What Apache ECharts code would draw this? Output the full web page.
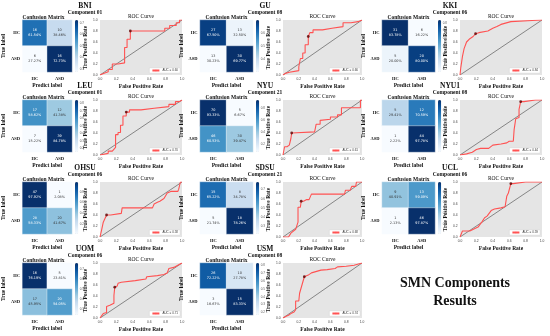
<!DOCTYPE html>
<html><head><meta charset="utf-8">
<script src="https://cdn.jsdelivr.net/npm/echarts@6/dist/echarts.min.js"></script>
<style>html,body{margin:0;padding:0;background:#fff}#c{width:550px;height:336px}</style>
</head><body><div id="c"></div>
<script>
// ---------------- DATA ----------------
const sites = ['BNI','GU','KKI','LEU','NYU','NYU1','OHSU','SDSU','UCL','UOM','USM'];
const components = ['Component 01','Component 08','Component 06','Component 01','Component 21','Component 08','Component 06','Component 21','Component 06','Component 06','Component 08'];
const classLabels = ['HC','ASD'];
// confusion matrix counts: [HC->HC, HC->ASD, ASD->HC, ASD->ASD]
const cmCounts = [
  [16,10,6,16],[27,13,13,30],[31,6,5,20],[17,12,7,39],[70,5,46,30],[5,12,1,44],
  [47,1,28,20],[15,8,5,18],[9,13,1,46],[16,5,17,20],[26,10,3,15]
];
// row-normalised rates (%)
const cmRates = [
  [61.54,38.46,27.27,72.73],[67.50,32.50,30.23,69.77],[83.78,16.22,20.00,80.00],[58.62,41.38,15.22,84.78],
  [93.33,6.67,60.53,39.47],[29.41,70.59,2.22,97.78],[97.92,2.08,58.33,41.67],[65.22,34.78,21.74,78.26],
  [40.91,59.09,2.13,97.87],[76.19,23.81,45.95,54.05],[72.22,27.78,16.67,83.33]
];
const aucLabels = ['AUC = 0.60','AUC = 0.66','AUC = 0.84','AUC = 0.70','AUC = 0.61','AUC = 0.44','AUC = 0.58','AUC = 0.68','AUC = 0.59','AUC = 0.71','AUC = 0.74'];
const rocBNI = [[0,0],[0,0.03],[0.05,0.03],[0.05,0.06],[0.1,0.06],[0.1,0.1],[0.15,0.1],[0.15,0.2],[0.22,0.2],[0.22,0.22],[0.3,0.22],[0.3,0.5],[0.33,0.5],[0.33,0.65],[0.37,0.65],[0.37,0.8],[0.79,0.8],[0.79,0.85],[0.85,0.85],[0.85,0.9],[0.93,0.9],[0.93,0.95],[0.97,0.95],[0.97,1],[1,1]];
const rocGU = [[0,0],[0.03,0.03],[0.08,0.05],[0.1,0.08],[0.2,0.08],[0.2,0.15],[0.22,0.15],[0.22,0.3],[0.25,0.3],[0.25,0.4],[0.28,0.4],[0.28,0.55],[0.32,0.55],[0.32,0.7],[0.34,0.7],[0.34,0.77],[0.38,0.77],[0.38,0.82],[0.5,0.82],[0.5,0.85],[0.62,0.85],[0.62,0.88],[0.76,0.88],[0.76,0.95],[0.86,0.95],[0.86,0.97],[0.95,0.97],[1,1]];
const rocKKI = [[0,0],[0.01,0.14],[0.03,0.34],[0.05,0.48],[0.08,0.6],[0.12,0.66],[0.16,0.7],[0.19,0.75],[0.23,0.77],[0.34,0.8],[0.4,0.85],[0.45,0.88],[0.5,0.92],[0.62,0.97],[0.88,0.99],[1,1]];
const rocLEU = [[0,0],[0,0.03],[0.1,0.03],[0.1,0.07],[0.15,0.07],[0.19,0.14],[0.19,0.37],[0.22,0.37],[0.22,0.41],[0.25,0.41],[0.25,0.54],[0.28,0.54],[0.28,0.71],[0.32,0.71],[0.32,0.78],[0.36,0.78],[0.36,0.82],[0.5,0.82],[0.5,0.85],[0.66,0.85],[0.66,0.88],[0.84,0.88],[0.84,0.92],[0.92,0.92],[0.92,0.97],[0.97,0.97],[0.97,1],[1,1]];
const rocNYU = [[0,0],[0.01,0.02],[0.02,0.02],[0.02,0.15],[0.05,0.15],[0.05,0.18],[0.08,0.18],[0.1,0.3],[0.11,0.4],[0.4,0.42],[0.4,0.44],[0.42,0.44],[0.42,0.56],[0.47,0.56],[0.47,0.63],[0.6,0.65],[0.6,0.69],[0.69,0.69],[0.69,0.73],[0.74,0.73],[0.74,0.86],[0.98,0.86],[0.98,1],[1,1]];
const rocNYU1 = [[0,0],[0.02,0.02],[0.08,0.02],[0.1,0.05],[0.15,0.05],[0.2,0.1],[0.25,0.12],[0.35,0.12],[0.4,0.18],[0.5,0.2],[0.57,0.22],[0.6,0.25],[0.65,0.25],[0.66,0.46],[0.68,0.46],[0.68,0.66],[0.72,0.68],[0.72,0.83],[0.74,0.83],[0.74,0.97],[0.78,0.97],[0.92,1],[1,1]];
const rocOHSU = [[0,0],[0,0.03],[0.02,0.03],[0.02,0.13],[0.04,0.13],[0.04,0.27],[0.06,0.27],[0.08,0.4],[0.13,0.4],[0.13,0.43],[0.26,0.43],[0.27,0.53],[0.64,0.53],[0.66,0.6],[0.7,0.63],[0.73,0.65],[0.78,0.7],[0.8,0.7],[0.82,0.8],[0.87,0.83],[0.95,0.83],[0.96,0.87],[0.98,0.87],[0.98,1],[1,1]];
const rocSDSU = [[0,0],[0.07,0],[0.1,0.07],[0.12,0.1],[0.16,0.14],[0.18,0.14],[0.19,0.27],[0.19,0.54],[0.22,0.54],[0.23,0.65],[0.26,0.65],[0.3,0.68],[0.33,0.68],[0.36,0.78],[0.78,0.78],[0.79,0.85],[0.85,0.85],[0.87,0.92],[0.92,0.92],[0.93,1],[1,1]];
const rocUCL = [[0,0],[0.02,0.02],[0.03,0.11],[0.12,0.11],[0.14,0.14],[0.22,0.18],[0.24,0.22],[0.27,0.28],[0.3,0.35],[0.33,0.38],[0.38,0.48],[0.42,0.51],[0.5,0.53],[0.55,0.55],[0.57,0.74],[0.59,0.8],[0.61,0.8],[0.62,0.97],[0.65,0.97],[0.8,1],[1,1]];
const rocUOM = [[0,0],[0.02,0.02],[0.04,0.08],[0.08,0.1],[0.08,0.21],[0.12,0.23],[0.13,0.25],[0.17,0.27],[0.17,0.41],[0.18,0.56],[0.21,0.58],[0.22,0.63],[0.26,0.65],[0.27,0.68],[0.43,0.68],[0.45,0.71],[0.56,0.71],[0.57,0.75],[0.7,0.77],[0.78,0.79],[0.82,0.82],[0.84,0.9],[0.9,0.92],[0.92,0.95],[0.96,0.97],[1,1]];
const rocUSM = [[0,0],[0.04,0.03],[0.07,0.05],[0.1,0.08],[0.14,0.11],[0.16,0.15],[0.16,0.31],[0.2,0.31],[0.21,0.45],[0.23,0.45],[0.24,0.6],[0.25,0.65],[0.27,0.75],[0.32,0.78],[0.36,0.82],[0.38,0.85],[0.48,0.87],[0.56,0.88],[0.66,0.9],[0.69,0.93],[0.8,0.94],[0.82,0.95],[0.9,0.96],[0.92,0.98],[1,1]];
const rocCurves = [rocBNI,rocGU,rocKKI,rocLEU,rocNYU,rocNYU1,rocOHSU,rocSDSU,rocUCL,rocUOM,rocUSM];
const rocMarkers = [[0.37,0.8],[0.32,0.7],[0.19,0.75],[0.32,0.78],[0.11,0.4],[0.74,0.97],[0.08,0.4],[0.23,0.65],[0.62,0.97],[0.18,0.56],[0.27,0.75]];
const chanceLine = [[0,0],[1,1]];

// ---------------- LAYOUT ----------------
const SERIF = '"Liberation Serif","Times New Roman",serif';
const colHm = [[15,57],[200,53],[382,53]];
const colCb = [75,256,438];
const colRoc = [[100,82],[283,79],[460,82]];
const colTitle = [85,265,450];
const colTrue = [5,186,371];
const rowTop = [20,100,182,263];
const HM_H = 52, ROC_H = 55;
const blues = ['#f7fbff','#deebf7','#c6dbef','#9ecae1','#6baed6','#4292c6','#2171b5','#08519c','#08306b'];

const grid=[], xAxis=[], yAxis=[], series=[], visualMap=[], legend=[], graphic=[];
const axisNameStyle = {fontFamily:SERIF, fontWeight:'bold', fontSize:5.5, color:'#111'};

sites.forEach((site,i)=>{
  const c=i%3, r=Math.floor(i/3);
  const top=rowTop[r];
  const [hl,hw]=colHm[c];
  const [rl,rw]=colRoc[c];
  graphic.push({type:'text',x:colTitle[c],y:top-14,style:{text:site,font:'bold 7.5px '+SERIF,fill:'#111',textAlign:'center',textVerticalAlign:'middle'}});
  graphic.push({type:'text',x:colTitle[c],y:top-7,style:{text:components[i],font:'bold 5.5px '+SERIF,fill:'#111',textAlign:'center',textVerticalAlign:'middle'}});
  graphic.push({type:'text',x:hl+hw/2,y:top-2.6,style:{text:'Confusion Matrix',font:'bold 5.5px '+SERIF,fill:'#111',textAlign:'center',textVerticalAlign:'middle'}});
  graphic.push({type:'text',x:rl+rw/2,y:top-3,style:{text:'ROC Curve',font:'5.5px '+SERIF,fill:'#111',textAlign:'center',textVerticalAlign:'middle'}});

  // ---- heatmap grid
  const gH=grid.length;
  grid.push({left:hl,top:top,width:hw,height:HM_H});
  const xH=xAxis.length;
  xAxis.push({type:'category',gridIndex:gH,data:classLabels,axisLine:{show:false},axisTick:{show:false},
    axisLabel:{fontFamily:SERIF,fontWeight:'bold',fontSize:4.5,color:'#111',margin:4},
    name:'Predict label',nameLocation:'middle',nameGap:11,nameTextStyle:axisNameStyle});
  const yH=yAxis.length;
  yAxis.push({type:'category',gridIndex:gH,data:classLabels.slice().reverse(),axisLine:{show:false},axisTick:{show:false},
    axisLabel:{fontFamily:SERIF,fontWeight:'bold',fontSize:4.5,color:'#111',margin:2.5},
    name:'True label',nameLocation:'middle',nameGap:hl-colTrue[c],nameTextStyle:axisNameStyle});
  const rates=cmRates[i], counts=cmCounts[i];
  const vmin=Math.min(...rates)/100, vmax=Math.max(...rates)/100;
  const cells=[[0,1],[1,1],[0,0],[1,0]];
  const hmData=cells.map((p,k)=>{
    const v=rates[k]/100;
    const dark=(v-vmin)/(vmax-vmin)>0.5;
    return {value:[p[0],p[1],v],label:{color:dark?'#fff':'#333'}};
  });
  const hmIndex=series.length;
  series.push({type:'heatmap',xAxisIndex:xH,yAxisIndex:yH,data:hmData,
    itemStyle:{borderColor:'#fff',borderWidth:0.4},
    label:{show:true,fontSize:3.4,fontFamily:'DejaVu Sans',lineHeight:5,
      formatter:(p)=>{const k=p.dataIndex;return counts[k]+'\n'+rates[k].toFixed(2)+'%';}},
    emphasis:{disabled:true}});
  visualMap.push({type:'continuous',seriesIndex:hmIndex,min:vmin,max:vmax,left:colCb[c],top:top,
    itemWidth:3.2,itemHeight:HM_H,padding:0,calculable:false,show:true,text:null,hoverLink:false,
    inRange:{color:blues},textStyle:{fontSize:1,color:'rgba(0,0,0,0)'}});
  // colorbar tick axis
  const gC=grid.length;
  grid.push({left:colCb[c],top:top,width:3.2,height:HM_H});
  xAxis.push({type:'value',gridIndex:gC,show:false,min:0,max:1});
  yAxis.push({type:'value',gridIndex:gC,position:'right',min:vmin,max:vmax,splitLine:{show:false},axisLine:{show:false},
    axisTick:{show:true,length:1,lineStyle:{color:'#555',width:0.3}},
    axisLabel:{fontSize:3,color:'#555',margin:1.5,showMinLabel:false,showMaxLabel:false,formatter:(v)=>v.toFixed(1)}});

  // ---- ROC grid
  const gR=grid.length;
  grid.push({left:rl,top:top,width:rw,height:ROC_H,show:true,backgroundColor:'#e5e5e5',borderWidth:0});
  const xR=xAxis.length;
  xAxis.push({type:'value',gridIndex:gR,min:0,max:1,interval:0.2,splitLine:{show:false},axisLine:{show:false},
    axisTick:{show:false},axisLabel:{fontSize:3.3,color:'#444',margin:2.5,formatter:(v)=>v.toFixed(1)},
    name:'False Positive Rate',nameLocation:'middle',nameGap:9,nameTextStyle:axisNameStyle});
  const yR=yAxis.length;
  yAxis.push({type:'value',gridIndex:gR,min:0,max:1,interval:0.2,splitLine:{show:false},axisLine:{show:false},
    axisTick:{show:false},axisLabel:{fontSize:3.3,color:'#444',margin:2.5,formatter:(v)=>v.toFixed(1)},
    name:'True Positive Rate',nameLocation:'middle',nameGap:9,nameTextStyle:axisNameStyle});
  series.push({type:'line',name:'chance'+i,xAxisIndex:xR,yAxisIndex:yR,data:chanceLine,symbol:'none',
    lineStyle:{color:'#444',width:0.6},silent:true,z:2,emphasis:{disabled:true}});
  series.push({type:'line',name:aucLabels[i],xAxisIndex:xR,yAxisIndex:yR,data:rocCurves[i],symbol:'none',
    lineStyle:{color:'#ff5252',width:1.1},itemStyle:{color:'#ff5252'},z:3,emphasis:{disabled:true}});
  series.push({type:'scatter',name:'opt'+i,xAxisIndex:xR,yAxisIndex:yR,data:[rocMarkers[i]],symbolSize:2.8,
    itemStyle:{color:'#5a0000'},z:4,emphasis:{disabled:true}});
  legend.push({data:[aucLabels[i]],right:550-(rl+rw)+2,top:top+ROC_H-7,itemWidth:7,itemHeight:2,itemGap:2,
    padding:[1,2],backgroundColor:'#fff',borderColor:'#ccc',borderWidth:0.3,
    textStyle:{fontSize:3,color:'#333',padding:[0,0,0,-2]},selectedMode:false});
});

graphic.push({type:'text',x:455,y:283,style:{text:'SMN Components',font:'bold 14px '+SERIF,fill:'#111',textAlign:'center',textVerticalAlign:'middle'}});
graphic.push({type:'text',x:455,y:301,style:{text:'Results',font:'bold 14px '+SERIF,fill:'#111',textAlign:'center',textVerticalAlign:'middle'}});

const chart=echarts.init(document.getElementById('c'),null,{renderer:'canvas'});
chart.setOption({animation:false,backgroundColor:'#fff',grid,xAxis,yAxis,series,visualMap,legend,graphic});
</script></body></html>
